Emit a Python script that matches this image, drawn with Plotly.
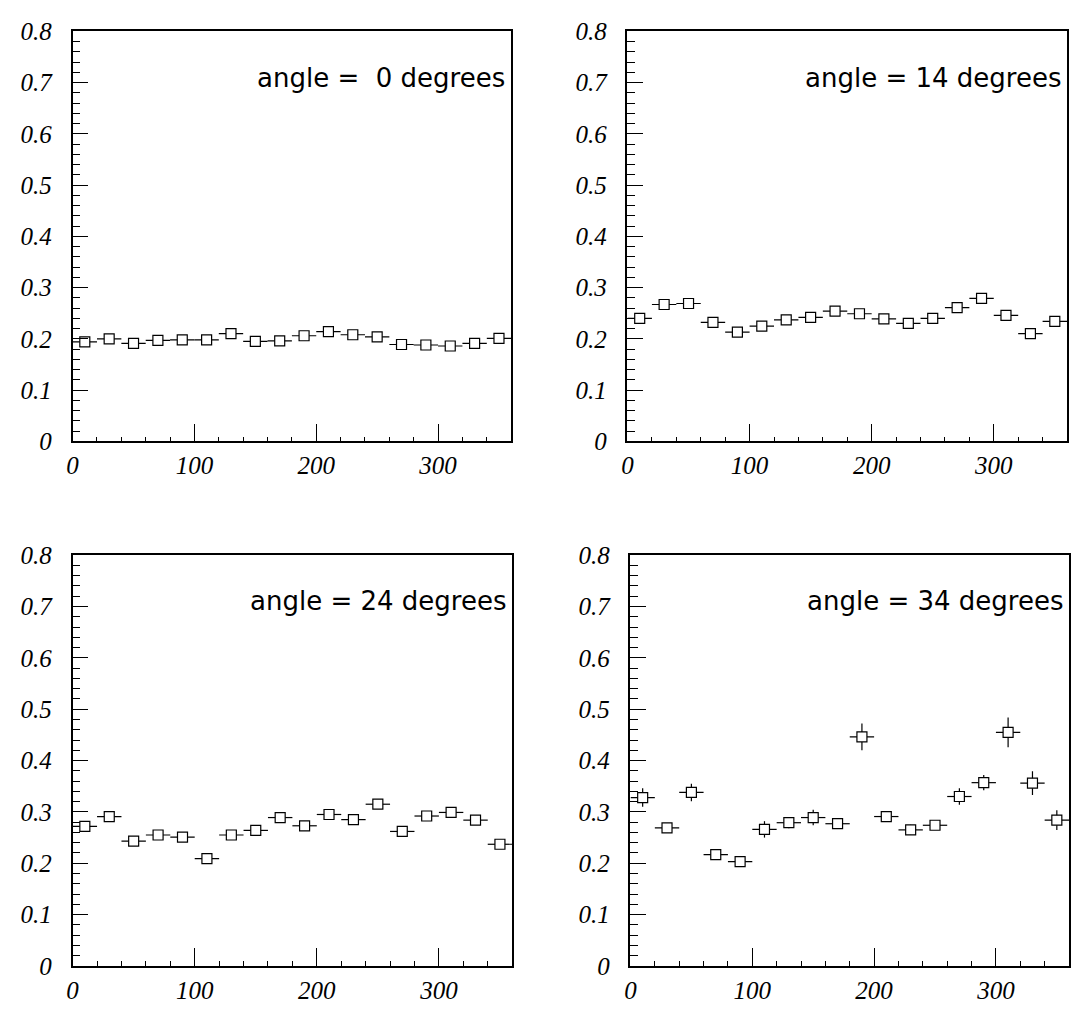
import plotly.graph_objects as go

# ---- data ----
phi_bins = [10, 30, 50, 70, 90, 110, 130, 150, 170, 190, 210, 230, 250, 270, 290, 310, 330, 350]
bin_half_width = [10] * 18

angle_labels = ["angle =\u00a0 0 degrees", "angle = 14 degrees", "angle = 24 degrees", "angle = 34 degrees"]

values_0 = [0.194, 0.200, 0.191, 0.197, 0.198, 0.198, 0.210, 0.195, 0.196, 0.206,
            0.214, 0.208, 0.204, 0.189, 0.188, 0.186, 0.191, 0.201]
errors_0 = [0.005] * 18

values_14 = [0.240, 0.267, 0.269, 0.232, 0.213, 0.225, 0.237, 0.242, 0.254, 0.249,
             0.239, 0.230, 0.240, 0.261, 0.279, 0.246, 0.210, 0.234]
errors_14 = [0.005] * 18

values_24 = [0.272, 0.291, 0.243, 0.255, 0.251, 0.209, 0.255, 0.264, 0.289, 0.273,
             0.295, 0.285, 0.315, 0.262, 0.292, 0.299, 0.284, 0.237]
errors_24 = [0.006] * 18

values_34 = [0.328, 0.269, 0.338, 0.217, 0.203, 0.266, 0.279, 0.289, 0.277, 0.446,
             0.291, 0.265, 0.274, 0.330, 0.357, 0.455, 0.356, 0.284]
errors_34 = [0.018, 0.006, 0.017, 0.008, 0.007, 0.016, 0.011, 0.015, 0.010, 0.026,
             0.009, 0.010, 0.008, 0.016, 0.015, 0.029, 0.023, 0.019]

x_ticks = [0, 100, 200, 300]
y_ticks = [0, 0.1, 0.2, 0.3, 0.4, 0.5, 0.6, 0.7, 0.8]

series = [values_0, values_14, values_24, values_34]
errs = [errors_0, errors_14, errors_24, errors_34]

W, H = 1071, 1015
# panel frames in pixels (left, right, top, bottom)
frames = [(67, 508, 19, 440), (625, 1067, 19, 440), (67, 509, 557, 979), (628, 1069, 557, 979)]

fig = go.Figure()
tick_font = dict(family="Liberation Serif", size=25, color="black", style="italic")

for i in range(4):
    n = "" if i == 0 else str(i + 1)
    fig.add_trace(go.Scatter(
        x=phi_bins, y=series[i],
        mode="markers",
        marker=dict(symbol="square", size=10, color="white", line=dict(color="black", width=1.2)),
        error_x=dict(type="data", array=bin_half_width, color="black", thickness=1.2, width=0),
        error_y=dict(type="data", array=errs[i], color="black", thickness=1.2, width=0),
        xaxis="x" + n, yaxis="y" + n, showlegend=False,
    ))
    l, r, t, b = frames[i]
    xa = dict(
        domain=[l / W, r / W], range=[0, 360], anchor="y" + n,
        showline=True, mirror=True, linecolor="black", linewidth=1.5,
        showgrid=False, zeroline=False,
        ticks="inside", tickvals=x_ticks, ticklen=18, tickwidth=1, tickcolor="black",
        minor=dict(dtick=20, tick0=0, ticks="inside", ticklen=5, tickcolor="black", showgrid=False),
        tickfont=tick_font, ticklabelstandoff=1,
    )
    ya = dict(
        domain=[1 - b / H, 1 - t / H], range=[0, 0.8], anchor="x" + n,
        showline=True, mirror=True, linecolor="black", linewidth=1.5,
        showgrid=False, zeroline=False,
        ticks="inside", tickvals=y_ticks, ticklen=16, tickwidth=1, tickcolor="black",
        minor=dict(dtick=0.02, tick0=0, ticks="inside", ticklen=8, tickcolor="black", showgrid=False),
        tickfont=tick_font, ticklabelstandoff=14,
    )
    fig.layout["xaxis" + n] = xa
    fig.layout["yaxis" + n] = ya
    fig.add_annotation(
        x=357, y=0.71, xref="x" + n, yref="y" + n,
        text=angle_labels[i], showarrow=False, xanchor="right", yanchor="middle",
        font=dict(family="DejaVu Sans", size=26, color="black"),
    )

fig.update_layout(
    width=W, height=H, margin=dict(l=0, r=0, t=0, b=0),
    paper_bgcolor="white", plot_bgcolor="white",
)

fig.write_html("out.html")
